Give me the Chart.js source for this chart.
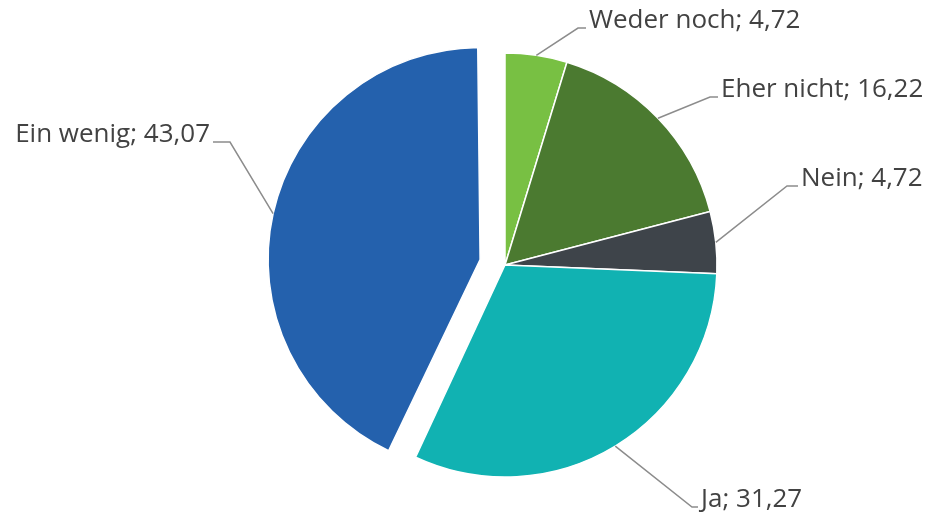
<!DOCTYPE html>
<html lang="de">
<head>
    <meta charset="UTF-8">
    <title>Umfrage</title>
    <script src="https://cdn.jsdelivr.net/npm/chart.js"></script>
    <style>
        html, body { margin: 0; padding: 0; background: #fff; }
        #wrap { width: 930px; height: 514px; }
    </style>
</head>
<body>
<div id="wrap"><canvas id="pieChart" width="930" height="514"></canvas></div>

<script>
    // Daten
    const labels = ['Weder noch', 'Eher nicht', 'Nein', 'Ja', 'Ein wenig'];
    const values = [4.72, 16.22, 4.72, 31.27, 43.07];

    // Farben
    const sliceColors = ['#78c043', '#4b7a30', '#3e444a', '#11b2b2', '#2461ad'];
    const sliceOffsets = [0, 0, 0, 0, 102];

    // Knickpunkte der Beschriftungslinien
    const labelLayout = [
        { x: 578, y: 28, side: 'right', stub: 8 },
        { x: 710, y: 97, side: 'right', stub: 8 },
        { x: 787, y: 186, side: 'right', stub: 11 },
        { x: 692, y: 507, side: 'right', stub: 6 },
        { x: 230, y: 142, side: 'left', stub: 17 }
    ];

    function fmt(v) {
        return v.toFixed(2).replace('.', ',');
    }

    // Chart.js enlarges an offset arc's radius; undo that so the slice keeps its size
    const keepRadius = {
        id: 'keepRadius',
        beforeDatasetsDraw(chart) {
            chart.getDatasetMeta(0).data.forEach(arc => {
                const off = (arc.options.offset || 0) / 4;
                if (!off || arc._fixed) return;
                const fix = 1 - Math.sin(Math.min(Math.PI, arc.circumference || 0));
                arc.outerRadius -= off * fix;
                arc._fixed = true;
            });
        }
    };

    const leaderLabels = {
        id: 'leaderLabels',
        afterDatasetsDraw(chart) {
            const ctx = chart.ctx;
            const meta = chart.getDatasetMeta(0);
            ctx.save();
            ctx.font = '26px "Open Sans"';
            ctx.fillStyle = '#424242';
            ctx.strokeStyle = '#8c8c8c';
            ctx.lineWidth = 1.5;
            ctx.textBaseline = 'alphabetic';
            meta.data.forEach((arc, i) => {
                const p = arc.getProps(['x', 'y', 'startAngle', 'endAngle', 'outerRadius', 'circumference'], true);
                const mid = (p.startAngle + p.endAngle) / 2;
                const off = (arc.options.offset || 0) / 4;
                const fix = 1 - Math.sin(Math.min(Math.PI, p.circumference || 0));
                const reach = p.outerRadius + off * (1 + fix);
                const ax = p.x + Math.cos(mid) * reach;
                const ay = p.y + Math.sin(mid) * reach;
                const l = labelLayout[i];
                const dir = l.side === 'right' ? 1 : -1;
                const endX = l.x + dir * l.stub;

                ctx.beginPath();
                ctx.moveTo(ax, ay);
                ctx.lineTo(l.x, l.y);
                ctx.lineTo(endX, l.y);
                ctx.stroke();

                ctx.textAlign = l.side === 'right' ? 'left' : 'right';
                ctx.fillText(labels[i] + '; ' + fmt(values[i]), endX + dir * 3, l.y);
            });
            ctx.restore();
        }
    };

    const ctx = document.getElementById('pieChart').getContext('2d');
    new Chart(ctx, {
        type: 'pie',
        data: {
            labels: labels,
            datasets: [{
                data: values,
                backgroundColor: sliceColors,
                borderColor: '#ffffff',
                borderWidth: 1.5,
                offset: sliceOffsets,
                hoverOffset: 0
            }]
        },
        options: {
            responsive: false,
            animation: false,
            radius: 212,
            layout: { padding: { left: 80, right: 0, top: 16, bottom: 0 } },
            plugins: {
                legend: { display: false },
                tooltip: { enabled: false }
            }
        },
        plugins: [keepRadius, leaderLabels]
    });
</script>
</body>
</html>
